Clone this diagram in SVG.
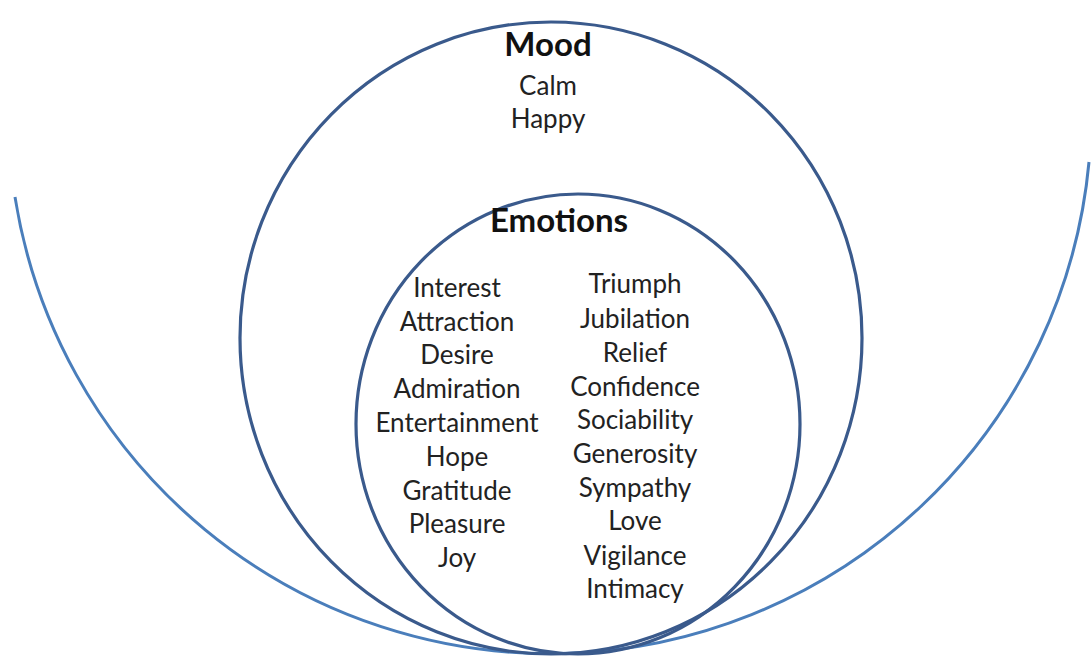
<svg xmlns="http://www.w3.org/2000/svg" width="1092" height="657" viewBox="0 0 1092 657">
  <style>
    .ring { fill: none; stroke: #3a5a8c; stroke-width: 3.2; }
    .arc { fill: none; stroke: #4a7ebb; stroke-width: 3; }
    .title { font-family: Lato, "Liberation Sans", sans-serif; font-weight: bold; font-size: 33px; fill: #111; text-anchor: middle; }
    .item { font-family: Lato, "Liberation Sans", sans-serif; font-size: 26px; fill: #222; text-anchor: middle; }
  </style>
  <rect width="1092" height="657" fill="#ffffff"/>
  <g id="outer-arc">
    <path class="arc" d="M 15 197 A 541.5 541.5 0 0 0 1089 162"/>
  </g>
  <g id="mood">
    <ellipse class="ring" cx="551" cy="338" rx="311" ry="316"/>
    <text class="title" x="548" y="56">Mood</text>
    <text class="item" x="548" y="95">Calm</text>
    <text class="item" x="548" y="128">Happy</text>
  </g>
  <g id="emotions">
    <ellipse class="ring" cx="578" cy="424" rx="222" ry="230"/>
    <text class="title" x="559" y="232">Emotions</text>
    <g id="emotions-left">
      <text class="item" x="457" y="297">Interest</text>
      <text class="item" x="457" y="331">Attraction</text>
      <text class="item" x="457" y="364">Desire</text>
      <text class="item" x="457" y="398">Admiration</text>
      <text class="item" x="457" y="432">Entertainment</text>
      <text class="item" x="457" y="466">Hope</text>
      <text class="item" x="457" y="500">Gratitude</text>
      <text class="item" x="457" y="533">Pleasure</text>
      <text class="item" x="457" y="567">Joy</text>
    </g>
    <g id="emotions-right">
      <text class="item" x="635" y="293">Triumph</text>
      <text class="item" x="635" y="328">Jubilation</text>
      <text class="item" x="635" y="362">Relief</text>
      <text class="item" x="635" y="396">Confidence</text>
      <text class="item" x="635" y="429">Sociability</text>
      <text class="item" x="635" y="463">Generosity</text>
      <text class="item" x="635" y="497">Sympathy</text>
      <text class="item" x="635" y="530">Love</text>
      <text class="item" x="635" y="565">Vigilance</text>
      <text class="item" x="635" y="598">Intimacy</text>
    </g>
  </g>
</svg>
